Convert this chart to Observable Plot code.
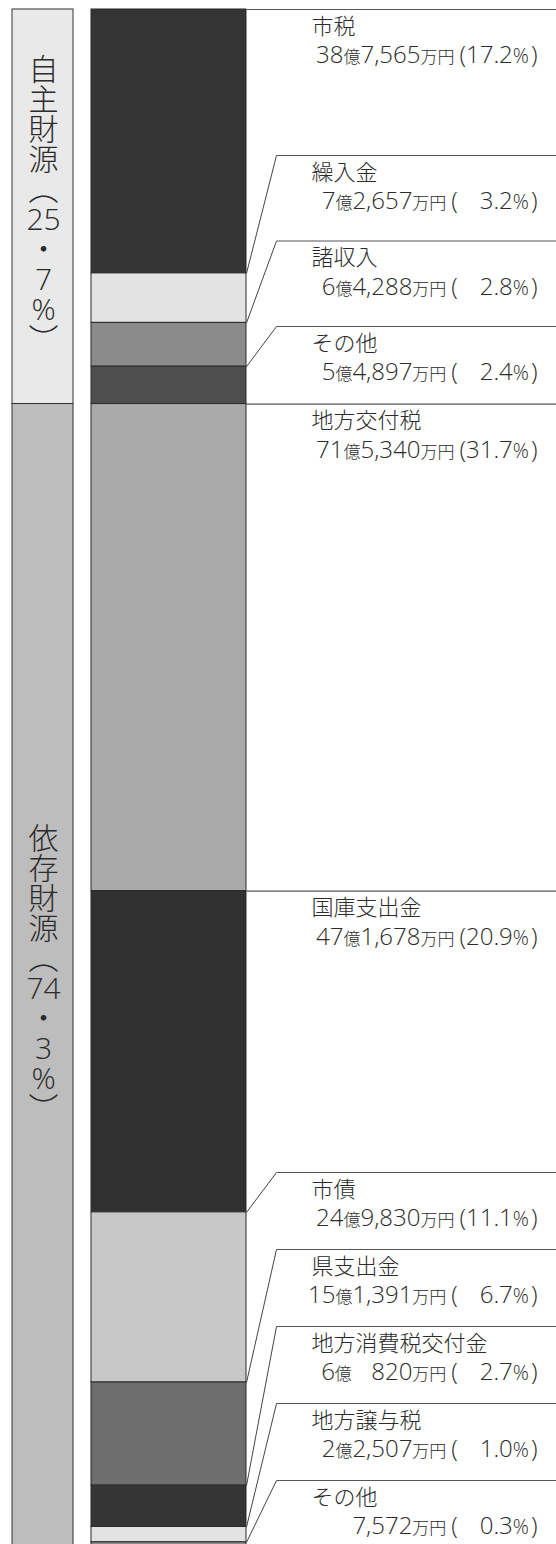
<!DOCTYPE html>
<html><head><meta charset="utf-8">
<script src="https://cdn.jsdelivr.net/npm/d3@7"></script>
<script src="https://cdn.jsdelivr.net/npm/@observablehq/plot@0.6"></script>
<style>
html,body{margin:0;padding:0;background:#fff;}
#chart svg{display:block;}
</style></head><body><div id="chart"></div>
<script>
// ---------------- data ----------------
const categories = ["市税","繰入金","諸収入","その他","地方交付税","国庫支出金","市債","県支出金","地方消費税交付金","地方譲与税","その他"];
const amounts = [387565, 72657, 64288, 54897, 715340, 471678, 249830, 151391, 60820, 22507, 7572]; // 万円
const shares = [17.2, 3.2, 2.8, 2.4, 31.7, 20.9, 11.1, 6.7, 2.7, 1.0, 0.3]; // %
const sourceOf = ["自主財源","自主財源","自主財源","自主財源","依存財源","依存財源","依存財源","依存財源","依存財源","依存財源","依存財源"];
const sourceNames = ["自主財源","依存財源"];
const sourceShares = [25.7, 74.3];

// ---------------- style / layout ----------------
const segmentColors = ["#353535","#e3e3e3","#8b8b8b","#4e4e4e","#aaaaaa","#303030","#c8c8c8","#6e6e6e","#353535","#e3e3e3","#8b8b8b"];
const sourceColors = ["#e9e9e9","#bdbdbd"];
const W = 556, H = 1544;
const X = {band0: 12, band1: 73, bar0: 91, bar1: 246, elbow: 276, right: 556, text: 311, valueEnd: 537};
const Y = {top: 9, bottom: 1547};
const bigShare = 15;
// stacked label chains: anchor (px), gap above anchor for last label, pitch between labels
const chains = [{anchor: 403, gap: 77, pitch: 85.5}, {anchor: 1544, gap: 64, pitch: 77}];

// ---------------- build ----------------
let acc = 0;
const rows = categories.map((name, i) => {
  const r = {i, name, amount: amounts[i], share: shares[i], source: sourceOf[i], y1: acc, y2: acc + amounts[i], color: segmentColors[i], big: shares[i] >= bigShare};
  acc += amounts[i];
  return r;
});
const total = acc;
const yScale = Plot.scale({y: {domain: [0, total], range: [Y.top, Y.bottom]}});

// label anchors
let chainIdx = 0, pending = [];
function flush() {
  const c = chains[chainIdx++];
  pending.slice().reverse().forEach((r, k) => { r.labelY = yScale.invert(c.anchor - c.gap - k * c.pitch); });
  pending = [];
}
rows.forEach(r => {
  if (r.big) { if (pending.length) flush(); r.labelY = r.y1; }
  else pending.push(r);
});
if (pending.length) flush();

const groups = sourceNames.map((s, i) => {
  const members = rows.filter(r => r.source === s);
  const p = String(sourceShares[i]).split(".");
  const tokens = [...s, "︵", p[0], "・", p[1], "%", "︶"];
  return {name: s, y1: members[0].y1, y2: members[members.length - 1].y2, color: sourceColors[i], text: tokens.join("\n")};
});

function fmtAmount(a) {
  const oku = Math.floor(a / 10000), man = a % 10000;
  let s = d3.format(",")(man);
  if (oku > 0) { if (man < 1000) s = "\u2007\u2008" + s; return oku + "億" + s + "万円"; }
  return s + "万円";
}
function fmtShare(p) { return "(" + (p < 10 ? "\u2007\u2008\u200A" : "") + p.toFixed(1) + "%)"; }
rows.forEach(r => { r.value = fmtAmount(r.amount) + fmtShare(r.share); });

const jp = "'Noto Sans CJK JP', 'Noto Sans', sans-serif";
const latin = "'Open Sans', 'Noto Sans CJK JP', sans-serif";
const ink = "#2b2b2b";

const plot = Plot.plot({
  width: W, height: H, margin: 0,
  x: {domain: [0, W], range: [0, W], axis: null},
  y: {domain: [0, total], range: [Y.top, Y.bottom], axis: null},
  color: {type: "identity"},
  style: {fontFamily: jp, background: "#fff", overflow: "hidden"},
  marks: [
    Plot.rect(groups, {x1: X.band0, x2: X.band1, y1: "y1", y2: "y2", fill: "color", stroke: "#333", strokeWidth: 1}),
    Plot.text(groups, {x: (X.band0 + X.band1) / 2 + 0.5, y: d => (d.y1 + d.y2) / 2, text: "text", dy: -1, fontSize: 30, lineHeight: 1.0, fill: ink, textAnchor: "middle", lineAnchor: "middle", fontFamily: latin, fontWeight: 300}),
    Plot.rect(rows, {x1: X.bar0, x2: X.bar1, y1: "y1", y2: "y2", fill: "color", stroke: "#2a2a2a", strokeWidth: 1}),
    Plot.link(rows.filter(r => !r.big), {x1: X.bar1, y1: "y1", x2: X.elbow, y2: "labelY", stroke: "#444", strokeWidth: 1}),
    Plot.link(rows, {x1: d => d.big ? X.bar1 : X.elbow, x2: X.right, y1: "labelY", y2: "labelY", stroke: "#555", strokeWidth: 1.2}),
    Plot.text(rows, {x: X.text, y: "labelY", text: "name", dy: 17, fontSize: 22, fill: ink, textAnchor: "start", lineAnchor: "middle", fontFamily: jp, fontWeight: 300}),
    Plot.text(rows, {x: X.valueEnd, y: "labelY", text: "value", dy: 46, fontSize: 24, fill: ink, textAnchor: "end", lineAnchor: "middle", fontFamily: latin, fontWeight: 300})
  ]
});

// smaller unit glyphs (億, 万円, %) inside value labels
d3.select(plot).selectAll("text").each(function() {
  const t = this.textContent;
  if (!t.includes("万円") || this.querySelector("tspan")) return;
  const sel = d3.select(this);
  sel.text(null);
  t.split(/(億|万円|%|\(|\))/).filter(s => s).forEach(part => {
    const ts = sel.append("tspan").text(part);
    if (part === "億" || part === "万円") ts.attr("font-size", 17).attr("font-family", jp);
    else if (part === "%") ts.attr("font-size", 20);
    else if (part === "(") ts.attr("dx", 5);
    else if (part === ")") ts.attr("dx", 2);
  });
});

document.getElementById("chart").appendChild(plot);
</script>
</body></html>
